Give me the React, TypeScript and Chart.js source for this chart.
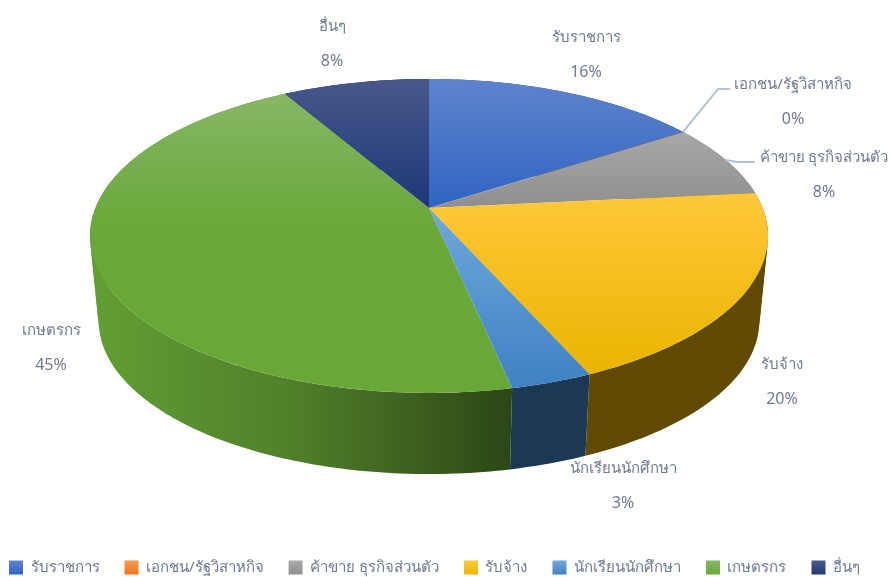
import React, { useEffect, useRef } from "react";
import { Chart, registerables } from "chart.js";

Chart.register(...registerables);

const categories = ["รับราชการ", "เอกชน/รัฐวิสาหกิจ", "ค้าขาย ธุรกิจส่วนตัว", "รับจ้าง", "นักเรียนนักศึกษา", "เกษตรกร", "อื่นๆ"];
const values = [15.75, 0.05, 7.6, 20.0, 3.3, 45.0, 8.3];

const topFrom = ["#5f83cc", "#f79a4e", "#a8a8a8", "#ffc839", "#6fa8dc", "#86b766", "#47588a"];
const topTo = ["#2f64c2", "#ee7420", "#8f8f8f", "#e9b500", "#3f81c2", "#68a838", "#1d3877"];
const wallFrom = ["#2a4a80", "#8a4510", "#5a5a5a", "#614c00", "#1c3b5e", "#619f33", "#14264f"];
const wallTo = ["#2a4a80", "#8a4510", "#5a5a5a", "#5f4a00", "#1c3855", "#2c4716", "#14264f"];

const labelPos = [[586, 38], [793, 85], [824, 158], [782, 365], [623, 469], [51, 331], [332, 27]];
const FONT = '"Noto Sans", "DejaVu Sans", sans-serif';
const TEXT = "#6f7a92";

const CX = 429, K = 0.178;
const top = { y: 208, r: 333.6, h: 152 };
const low = { y: 294, r: 325, h: 148 };

function project(d: { y: number; r: number; h: number }, theta: number) {
  const u = Math.sin(theta), v = -Math.cos(theta);
  const w = 1 - K * v;
  return [CX + (d.r * u) / w, d.y + (d.h * v) / w];
}

function signedArea(p: number[][]) {
  let a = 0;
  p.forEach((q, n) => {
    const r = p[(n + 1) % p.length];
    a += q[0] * r[1] - r[0] * q[1];
  });
  return a;
}

const pie3d = {
  id: "pie3d",
  beforeDatasetsDraw(chart: any) {
    const ctx = chart.ctx;
    const arcs = chart.getDatasetMeta(0).data;
    const step = Math.PI / 180;
    // side walls: strips of one winding share a path, so neighbours leave no seam
    arcs.forEach((a: any, i: number) => {
      const s = a.startAngle + Math.PI / 2, e = a.endAngle + Math.PI / 2;
      const g = ctx.createLinearGradient(90, 0, 768, 0);
      g.addColorStop(0, wallFrom[i]);
      g.addColorStop(0.3, i === 5 ? "#507f2a" : wallFrom[i]);
      g.addColorStop(0.62, wallTo[i]);
      g.addColorStop(1, wallTo[i]);
      ctx.fillStyle = g;
      [1, -1].forEach((sign) => {
        ctx.beginPath();
        for (let t = s; t < e; t += step) {
          const t2 = Math.min(t + step, e);
          const p = [project(top, t), project(top, t2), project(low, t2), project(low, t)];
          if (signedArea(p) * sign < 0) continue;
          ctx.moveTo(p[0][0], p[0][1]);
          ctx.lineTo(p[1][0], p[1][1]);
          ctx.lineTo(p[2][0], p[2][1]);
          ctx.lineTo(p[3][0], p[3][1]);
          ctx.closePath();
        }
        ctx.fill();
      });
    });
    // top faces
    arcs.forEach((a: any, i: number) => {
      const s = a.startAngle + Math.PI / 2, e = a.endAngle + Math.PI / 2;
      const pts: number[][] = [];
      for (let t = s; t < e; t += step / 2) pts.push(project(top, t));
      pts.push(project(top, e));
      const ys = pts.map((p) => p[1]).concat(top.y);
      const g = ctx.createLinearGradient(0, Math.min(...ys), 0, Math.max(...ys));
      g.addColorStop(0, topFrom[i]);
      g.addColorStop(i === 5 ? 0.45 : 1, topTo[i]);
      g.addColorStop(1, topTo[i]);
      ctx.fillStyle = g;
      ctx.beginPath();
      ctx.moveTo(CX, top.y);
      pts.forEach((p) => ctx.lineTo(p[0], p[1]));
      ctx.closePath();
      ctx.fill();
    });
    return false;
  },
  afterDraw(chart: any) {
    const ctx = chart.ctx;
    const arcs = chart.getDatasetMeta(0).data;
    // leader lines
    ctx.save();
    ctx.strokeStyle = "#b6c2d2";
    ctx.lineWidth = 2;
    const a1 = project(top, arcs[1].startAngle + Math.PI / 2);
    ctx.beginPath();
    ctx.moveTo(a1[0], a1[1]);
    ctx.lineTo(718, 89);
    ctx.lineTo(730, 89);
    ctx.stroke();
    ctx.beginPath();
    ctx.moveTo(725, 160);
    ctx.lineTo(738, 162);
    ctx.lineTo(755, 162);
    ctx.stroke();
    // data labels
    const total = values.reduce((x, y) => x + y, 0);
    ctx.fillStyle = TEXT;
    ctx.textAlign = "center";
    ctx.textBaseline = "middle";
    categories.forEach((c, i) => {
      ctx.font = "15px " + FONT;
      ctx.fillText(c, labelPos[i][0], labelPos[i][1]);
      ctx.font = "16px " + FONT;
      ctx.fillText(Math.round((values[i] / total) * 100) + "%", labelPos[i][0], labelPos[i][1] + 34);
    });
    ctx.restore();
  },
};

export default function App() {
  const ref = useRef<HTMLCanvasElement>(null);
  useEffect(() => {
    document.body.style.margin = "0";
    const ctx = ref.current!.getContext("2d")!;
    const chart = new Chart(ctx, {
      type: "pie",
      data: { labels: categories, datasets: [{ data: values, backgroundColor: topTo }] },
      options: {
        responsive: false,
        animation: false,
        layout: { padding: { bottom: -8, left: -22 } },
        plugins: {
          tooltip: { enabled: false },
          legend: {
            position: "bottom",
            labels: {
              boxWidth: 14,
              boxHeight: 14,
              padding: 25,
              color: TEXT,
              font: { size: 15, family: FONT },
              generateLabels() {
                return categories.map((c, i) => {
                  const g = ctx.createLinearGradient(0, 561, 0, 575);
                  g.addColorStop(0, topFrom[i]);
                  g.addColorStop(1, topTo[i]);
                  return { text: c, fillStyle: g, strokeStyle: "transparent", lineWidth: 0, hidden: false, index: i, fontColor: TEXT };
                });
              },
            },
          },
        },
      },
      plugins: [pie3d],
    } as any);
    return () => chart.destroy();
  }, []);
  return <canvas ref={ref} width={891} height={577} style={{ display: "block" }} />;
}
